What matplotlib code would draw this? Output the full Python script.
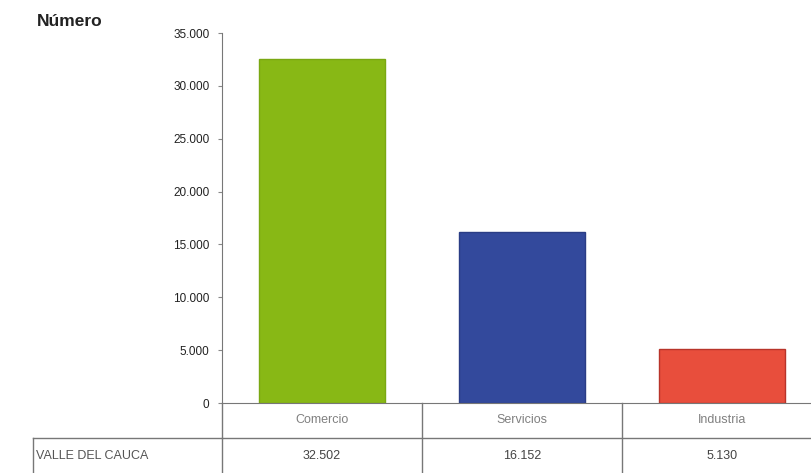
import matplotlib
matplotlib.use('Agg')
import matplotlib.pyplot as plt
from matplotlib.transforms import blended_transform_factory
from matplotlib.ticker import FuncFormatter

# Empresas por sector - Valle del Cauca
categorias = ['Comercio', 'Servicios', 'Industria']
valores = [32502, 16152, 5130]
region = 'VALLE DEL CAUCA'
colores = ['#88b815', '#33499c', '#e84e3c']
bordes = ['#7aa812', '#2a3d85', '#b8342a']
yticks = [0, 5000, 10000, 15000, 20000, 25000, 30000, 35000]


def miles(v, pos=None):
    # separador de miles con punto
    return '{:,.0f}'.format(v).replace(',', '.')


plt.rcParams['font.family'] = ['Liberation Sans', 'DejaVu Sans']

W, H = 812, 473
fig = plt.figure(figsize=(W / 100, H / 100), dpi=100)
# el eje sigue mas alla del borde derecho (la ultima columna queda cortada)
ax = fig.add_axes([222 / W, (H - 403) / H, 600 / W, 370 / H])

x = list(range(len(categorias)))
ax.bar(x, valores, width=0.63, color=colores, edgecolor=bordes, linewidth=1)
ax.set_xlim(-0.5, len(categorias) - 0.5)
ax.set_ylim(0, 35000)
ax.set_yticks(yticks)
ax.yaxis.set_major_formatter(FuncFormatter(miles))
ax.tick_params(axis='y', labelsize=8.5, length=3, color='#888888',
               labelcolor='#222222', pad=6)
ax.set_xticks([])
for s in ['top', 'right']:
    ax.spines[s].set_visible(False)
ax.spines['left'].set_color('#777777')
ax.spines['bottom'].set_color('#777777')

fig.text(37 / W, 1 - 22 / H, 'Número', fontsize=12.5, fontweight='bold',
         va='center', ha='left', color='#222222')

# tabla de datos bajo el grafico
tr = blended_transform_factory(ax.transData, fig.transFigure)
y0 = (H - 403) / H
y1 = (H - 438) / H
lc = '#777777'
for b in [-0.5, 0.5, 1.5]:
    ax.plot([b, b], [y0, 0], transform=tr, color=lc, lw=1, clip_on=False)
ax.plot([-0.5, 3], [y1, y1], transform=tr, color=lc, lw=1, clip_on=False)
fig.add_artist(plt.Line2D([33 / W, 222 / W], [y1, y1], color=lc, lw=1))
fig.add_artist(plt.Line2D([33 / W, 33 / W], [y1, 0], color=lc, lw=1))

for i, (c, v) in enumerate(zip(categorias, valores)):
    ax.text(i, (H - 420) / H, c, transform=tr, ha='center', va='center',
            fontsize=9, color='#808080', clip_on=False)
    ax.text(i, (H - 456) / H, miles(v), transform=tr, ha='center',
            va='center', fontsize=9, color='#444444', clip_on=False)
fig.text(36 / W, (H - 456) / H, region, fontsize=9, color='#555555',
         ha='left', va='center')

fig.savefig('out.png', dpi=100)
